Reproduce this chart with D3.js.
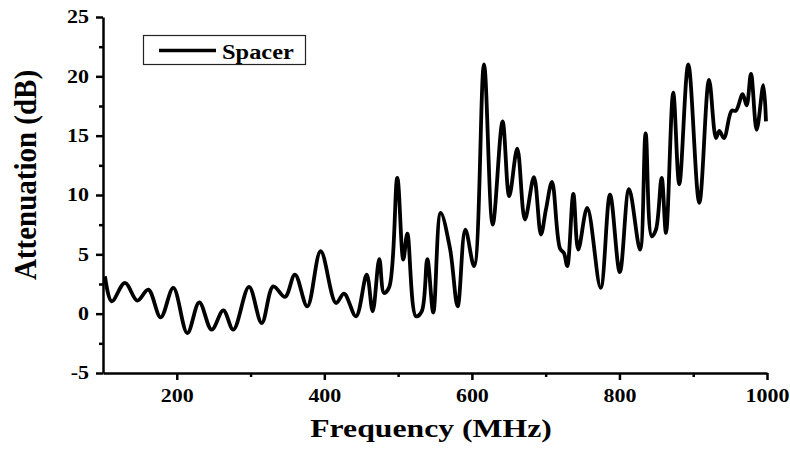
<!DOCTYPE html>
<html>
<head>
<meta charset="utf-8">
<script src="https://cdn.jsdelivr.net/npm/d3@7"></script>
<style>
  body { margin: 0; background: #fff; }
  text { font-family: "Liberation Serif", "Times New Roman", serif; font-weight: bold; fill: #000; }
</style>
</head>
<body>
<svg id="chart" width="790" height="451"></svg>
<script>
// frequency (MHz) and attenuation (dB)
const freq = [102.7, 111.8, 129.8, 146.5, 161.4, 178.2, 195.3, 214.3, 230.5, 247.3,
  263.1, 276.6, 297.9, 315.1, 330.8, 346.7, 360.2, 376.9, 395, 415.8,
  426.7, 442.9, 457.4, 465.5, 474.5, 480.9, 488, 498.9, 507, 512.5,
  524.2, 532, 539.6, 547.7, 557.7, 570.3, 580.7, 591.1, 603, 616.4,
  628.2, 641.6, 650.6, 661.5, 671.9, 684.1, 693.6, 700.4, 708.6, 719.4,
  724.8, 729.3, 737.5, 744.2, 756.4, 774.5, 787.2, 800.5, 813, 827.9,
  835.5, 843.7, 849.5, 857.2, 863.1, 872.9, 881.1, 893.3, 908.2, 921.4,
  930.9, 935.3, 941.7, 952.1, 957.9, 967, 972.4, 978.3, 986, 995, 998.6];
const atten = [3.15, 1.04, 2.59, 1.1, 2.03, -0.31, 2.17, -1.63, 0.95, -1.35,
  0.28, -1.35, 2.25, -0.79, 2.3, 1.41, 3.29, 0.62, 5.26, 0.9,
  1.69, -0.22, 3.29, 0.2, 4.6, 1.74, 2.25, 11.45, 4.56, 6.75,
  -0.22, 0.2, 4.6, 0.1, 8.5, 5.5, 0.62, 7.09, 4.0, 21.0,
  7.5, 16.2, 9.9, 13.9, 7.93, 11.5, 6.67, 8.78, 11.1, 5.5,
  5.1, 4.0, 10.1, 5.4, 8.92, 2.17, 10.04, 3.5, 10.5, 5.4,
  15.2, 6.52, 7.09, 11.45, 6.81, 18.62, 10.9, 21.0, 9.34, 19.7,
  14.8, 15.4, 14.8, 17.1, 17.1, 18.5, 17.55, 20.2, 15.5, 19.25, 16.2];

const xMajor = [200, 400, 600, 800, 1000];
const xMinor = [300, 500, 700, 900];
const yMajor = [-5, 0, 5, 10, 15, 20, 25];
const yMinor = [-2.5, 2.5, 7.5, 12.5, 17.5, 22.5];
const seriesName = 'Spacer';

const data = freq.map((f, i) => ({ f: f, a: atten[i] }));

const svg = d3.select('#chart');
const stretch = 'scale(1.22,1)';
const plain = d => String(d);   // keeps "1000" and a plain hyphen in "-5"

const x = d3.scaleLinear().domain([100, 1000]).range([103, 767]);
const y = d3.scaleLinear().domain([-5, 25]).range([373, 17]);

// minor ticks first, majors over them
svg.append('g')
    .attr('transform', `translate(0, ${y(-5)})`)
    .call(d3.axisBottom(x).tickValues(xMinor).tickSize(4).tickFormat(''))
    .call(g => g.select('.domain').remove());
svg.append('g')
    .attr('transform', `translate(${x(100)}, 0)`)
    .call(d3.axisLeft(y).tickValues(yMinor).tickSize(4).tickFormat(''))
    .call(g => g.select('.domain').remove());

const xAxisG = svg.append('g')
    .attr('transform', `translate(0, ${y(-5)})`)
    .call(d3.axisBottom(x).tickValues(xMajor).tickFormat(plain)
        .tickSize(7).tickSizeOuter(0).tickPadding(9));
xAxisG.selectAll('text')
    .attr('font-size', 18)
    .attr('transform', stretch);

const yAxisG = svg.append('g')
    .attr('transform', `translate(${x(100)}, 0)`)
    .call(d3.axisLeft(y).tickValues(yMajor).tickFormat(plain)
        .tickSize(7).tickSizeOuter(0));
yAxisG.selectAll('text')
    .attr('font-size', 18)
    .attr('x', -14 / 1.22)
    .attr('transform', stretch);

svg.selectAll('.domain, .tick line')
    .attr('stroke', '#000')
    .attr('stroke-width', 2.5);

// axis titles
svg.append('text')
    .attr('transform', `translate(431, 437) ${stretch}`)
    .attr('text-anchor', 'middle')
    .attr('font-size', 26)
    .text('Frequency (MHz)');

svg.append('text')
    .attr('transform', 'translate(36, 175) rotate(-90) scale(1,1.1)')
    .attr('text-anchor', 'middle')
    .attr('font-size', 29)
    .text('Attenuation (dB)');

// the curve
const line = d3.line()
    .x(d => x(d.f))
    .y(d => y(d.a))
    .curve(d3.curveCatmullRom.alpha(0.5));

svg.append('path')
    .datum(data)
    .attr('fill', 'none')
    .attr('stroke', '#000')
    .attr('stroke-width', 3.8)
    .attr('stroke-linejoin', 'round')
    .attr('d', line);

// legend
const legend = svg.append('g');
legend.append('rect')
    .attr('x', 143.5).attr('y', 35.5)
    .attr('width', 162).attr('height', 29)
    .attr('fill', '#fff')
    .attr('stroke', '#222')
    .attr('stroke-width', 1.2);
legend.append('line')
    .attr('x1', 159).attr('x2', 216)
    .attr('y1', 50.5).attr('y2', 50.5)
    .attr('stroke', '#000')
    .attr('stroke-width', 3.5);
legend.append('text')
    .attr('transform', `translate(222, 59) ${stretch}`)
    .attr('font-size', 20)
    .text(seriesName);
</script>
</body>
</html>
